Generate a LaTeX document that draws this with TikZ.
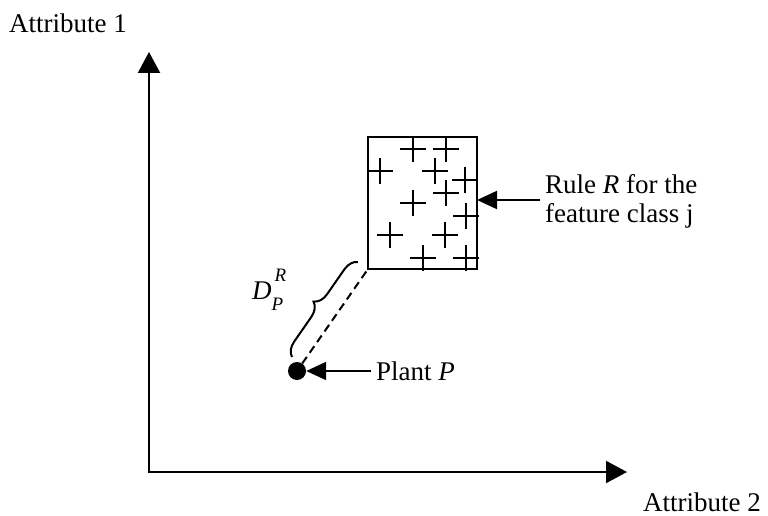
\documentclass[tikz,border=0pt]{standalone}
\usepackage{fontspec}
\setmainfont{Liberation Serif}
\usetikzlibrary{arrows.meta,decorations.pathreplacing}
\begin{document}
\begin{tikzpicture}[x=1pt,y=1pt, font=\fontsize{27}{30}\selectfont,
  axis/.style={line width=2.2pt,{Triangle[length=21pt,width=22pt]}-{Triangle[length=21pt,width=22pt]}},
  pointer/.style={line width=2pt,-{Triangle[length=20pt,width=18pt]}},
  plus/.style={line width=2.2pt},
  lbl/.style={inner sep=0pt}]
\useasboundingbox (0,0) rectangle (768,-516);
% axes
\coordinate (O) at (149,-472);
\coordinate (Ytop) at (149,-52);
\coordinate (Xend) at (627,-472);
\draw[axis] (Ytop) -- (O) -- (Xend);
\node[lbl, anchor=base west] (a1) at (9,-33) {Attribute 1};
\node[lbl, anchor=base west] (a2) at (643,-511) {Attribute 2};
% rule box
\node[draw, line width=2pt, inner sep=0pt, outer sep=0pt, minimum width=109pt, minimum height=132pt] (rule) at (422.5,-203) {};
\foreach \px/\py in {413/149,446/149,380/171,435/171,465/180,446/193,413/203,466/216,390/235,445/235,423/258,466/258}{
  \draw[plus] ({\px-13},{-\py}) -- ({\px+13},{-\py});
  \draw[plus] ({\px},{-\py+13}) -- ({\px},{-\py-13});
}
\coordinate (rtail) at (540,-200);
\draw[pointer] (rtail) -- (rtail -| rule.east);
\node[lbl, anchor=base west] (rt1) at (545,-193) {Rule \textit{R} for the};
\node[lbl, anchor=base west] (rt2) at (545,-222) {feature class j};
% plant
\node[circle, fill, inner sep=0pt, minimum size=18pt] (P) at (297,-371) {};
\coordinate (ptail) at (371,-371);
\draw[pointer] (ptail) -- (P.east);
\node[lbl, anchor=base west] (pt) at (376,-380) {Plant \textit{P}};
% distance
\draw[line width=2pt, dash pattern=on 8pt off 5pt] (P) -- (rule.south west);
\coordinate (b1) at (292,-357);
\coordinate (b2) at (358,-262);
\draw[line width=2pt, decorate, decoration={brace, amplitude=14pt}] (b1) -- (b2);
\node[lbl, anchor=base west] (D) at (252,-299) {\fontsize{27}{30}\selectfont\textit{D}\makebox[0pt][l]{\hspace{3pt}\raisebox{18pt}{\fontsize{19}{19}\selectfont\itshape R}}\raisebox{-11pt}{\fontsize{19}{19}\selectfont\itshape P}};
\end{tikzpicture}
\end{document}
